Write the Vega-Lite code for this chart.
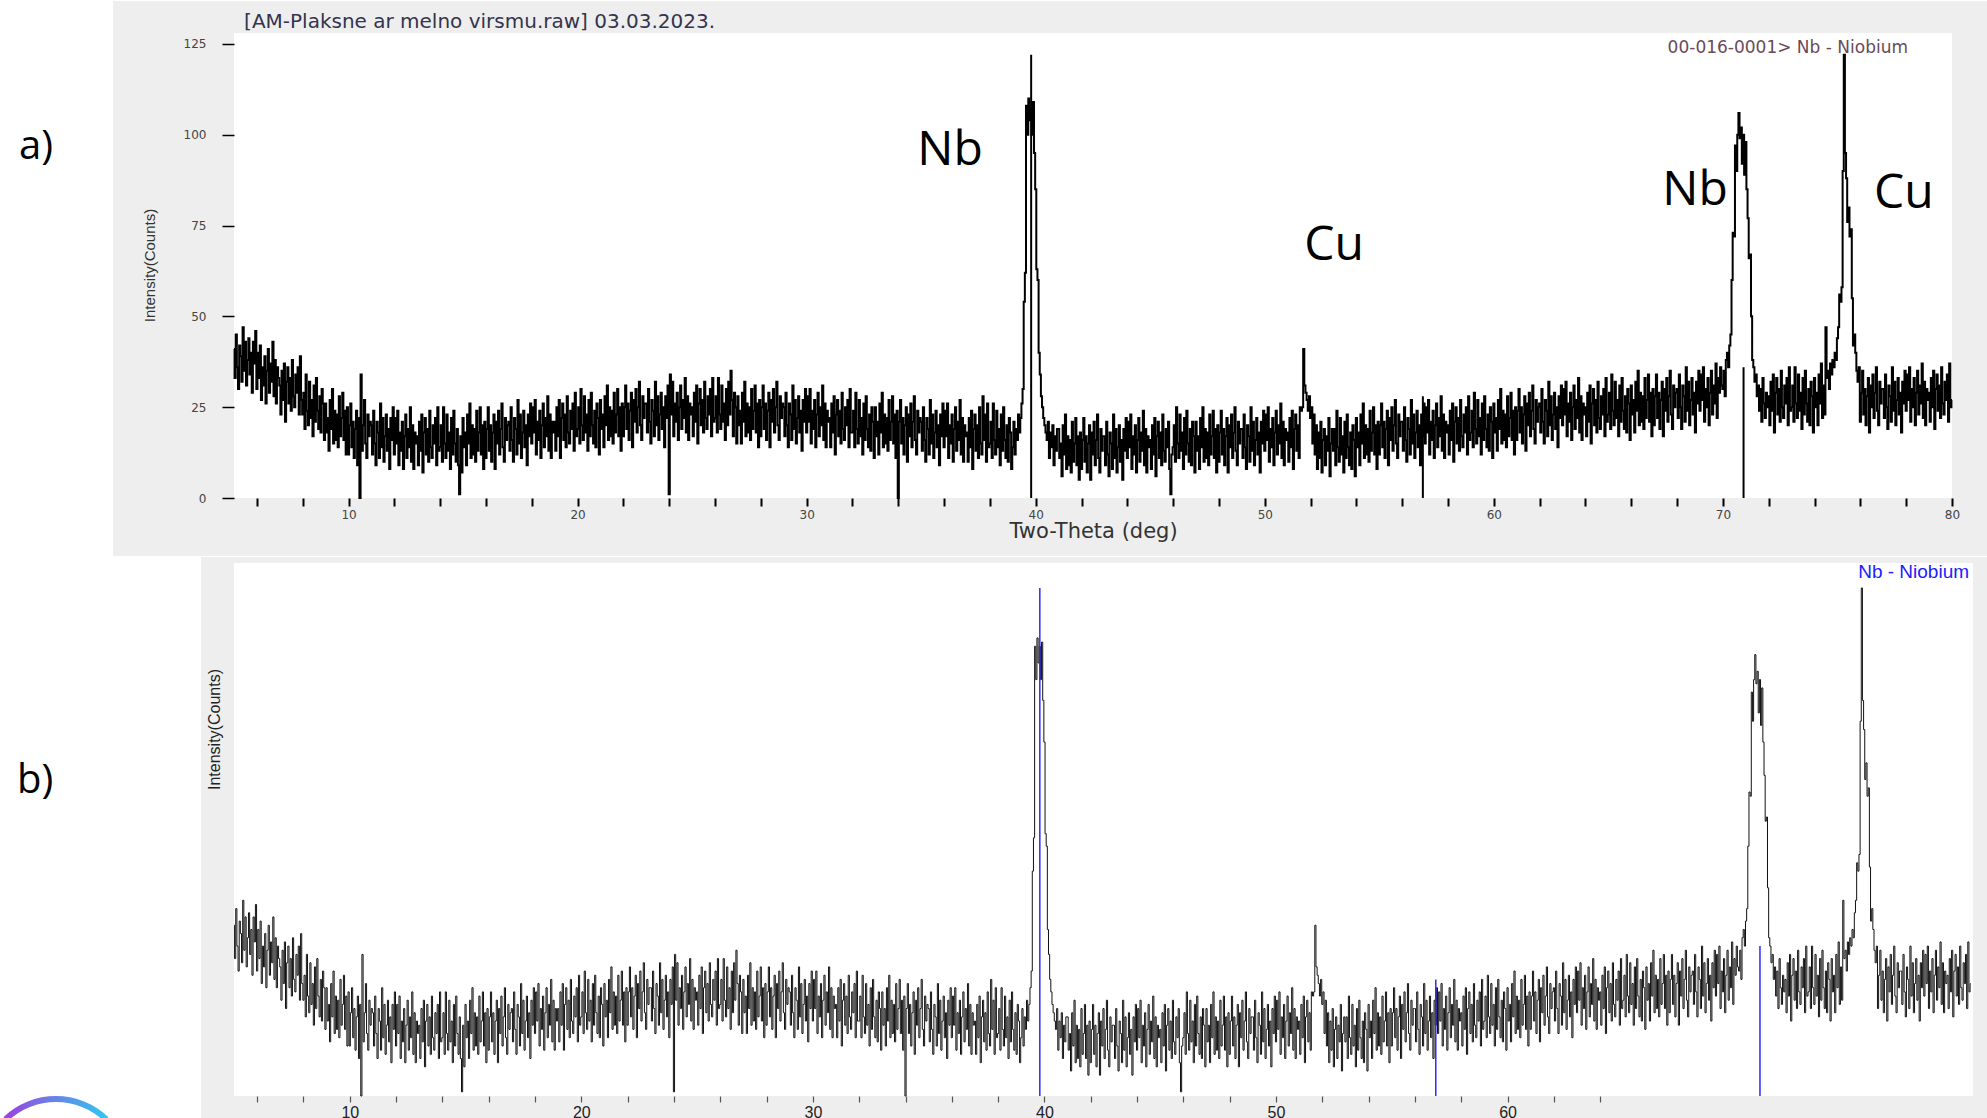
{
  "$schema": "https://vega.github.io/schema/vega-lite/v6.json",
  "padding": 0,
  "background": "white",
  "spacing": 0,
  "config": {"view": {"stroke": null}, "axis": {"grid": false}},
  "datasets": {
    "sticks": [{"x": 39.8, "b": 0, "h": 122}, {"x": 56.9, "b": 0, "h": 28}, {"x": 70.9, "b": 0, "h": 36}],
    "scan": [
{"x":5.00,"y":41},{"x":5.05,"y":33},{"x":5.10,"y":45},{"x":5.15,"y":36},{"x":5.20,"y":30},{"x":5.25,"y":42},{"x":5.30,"y":39},{"x":5.35,"y":32},{"x":5.40,"y":47},{"x":5.45,"y":35},{"x":5.50,"y":43},{"x":5.55,"y":31},{"x":5.60,"y":38},{"x":5.65,"y":44},{"x":5.70,"y":34},{"x":5.75,"y":40},{"x":5.80,"y":29},{"x":5.85,"y":43},{"x":5.90,"y":37},{"x":5.95,"y":46},
{"x":6.00,"y":30},{"x":6.05,"y":40},{"x":6.10,"y":33},{"x":6.15,"y":42},{"x":6.20,"y":27},{"x":6.25,"y":36},{"x":6.30,"y":31},{"x":6.35,"y":39},{"x":6.40,"y":26},{"x":6.45,"y":35},{"x":6.50,"y":41},{"x":6.55,"y":29},{"x":6.60,"y":37},{"x":6.65,"y":32},{"x":6.70,"y":43},{"x":6.75,"y":28},{"x":6.80,"y":38},{"x":6.85,"y":26},{"x":6.90,"y":36},{"x":6.95,"y":33},
{"x":7.00,"y":31},{"x":7.05,"y":23},{"x":7.10,"y":35},{"x":7.15,"y":27},{"x":7.20,"y":37},{"x":7.25,"y":21},{"x":7.30,"y":32},{"x":7.35,"y":36},{"x":7.40,"y":26},{"x":7.45,"y":33},{"x":7.50,"y":24},{"x":7.55,"y":38},{"x":7.60,"y":28},{"x":7.65,"y":25},{"x":7.70,"y":34},{"x":7.75,"y":29},{"x":7.80,"y":36},{"x":7.85,"y":23},{"x":7.90,"y":39},{"x":7.95,"y":27},
{"x":8.00,"y":23},{"x":8.05,"y":29},{"x":8.10,"y":19},{"x":8.15,"y":34},{"x":8.20,"y":24},{"x":8.25,"y":20},{"x":8.30,"y":32},{"x":8.35,"y":22},{"x":8.40,"y":27},{"x":8.45,"y":17},{"x":8.50,"y":31},{"x":8.55,"y":21},{"x":8.60,"y":33},{"x":8.65,"y":24},{"x":8.70,"y":19},{"x":8.75,"y":28},{"x":8.80,"y":18},{"x":8.85,"y":30},{"x":8.90,"y":26},{"x":8.95,"y":16},
{"x":9.00,"y":26},{"x":9.05,"y":18},{"x":9.10,"y":22},{"x":9.15,"y":13},{"x":9.20,"y":27},{"x":9.25,"y":19},{"x":9.30,"y":30},{"x":9.35,"y":15},{"x":9.40,"y":24},{"x":9.45,"y":16},{"x":9.50,"y":23},{"x":9.55,"y":14},{"x":9.60,"y":28},{"x":9.65,"y":17},{"x":9.70,"y":22},{"x":9.75,"y":29},{"x":9.80,"y":16},{"x":9.85,"y":24},{"x":9.90,"y":12},{"x":9.95,"y":25},
{"x":10.00,"y":12},{"x":10.05,"y":20},{"x":10.10,"y":26},{"x":10.15,"y":14},{"x":10.20,"y":21},{"x":10.25,"y":11},{"x":10.30,"y":19},{"x":10.35,"y":24},{"x":10.40,"y":9},{"x":10.45,"y":22},{"x":10.50,"y":0},{"x":10.55,"y":34},{"x":10.60,"y":13},{"x":10.65,"y":20},{"x":10.70,"y":27},{"x":10.75,"y":15},{"x":10.80,"y":11},{"x":10.85,"y":23},{"x":10.90,"y":17},{"x":10.95,"y":21},
{"x":11.00,"y":20},{"x":11.05,"y":12},{"x":11.10,"y":24},{"x":11.15,"y":15},{"x":11.20,"y":9},{"x":11.25,"y":21},{"x":11.30,"y":18},{"x":11.35,"y":11},{"x":11.40,"y":26},{"x":11.45,"y":14},{"x":11.50,"y":22},{"x":11.55,"y":10},{"x":11.60,"y":17},{"x":11.65,"y":23},{"x":11.70,"y":13},{"x":11.75,"y":19},{"x":11.80,"y":8},{"x":11.85,"y":22},{"x":11.90,"y":16},{"x":11.95,"y":25},
{"x":12.00,"y":12},{"x":12.05,"y":22},{"x":12.10,"y":15},{"x":12.15,"y":24},{"x":12.20,"y":9},{"x":12.25,"y":18},{"x":12.30,"y":13},{"x":12.35,"y":21},{"x":12.40,"y":8},{"x":12.45,"y":17},{"x":12.50,"y":23},{"x":12.55,"y":11},{"x":12.60,"y":19},{"x":12.65,"y":14},{"x":12.70,"y":25},{"x":12.75,"y":10},{"x":12.80,"y":20},{"x":12.85,"y":8},{"x":12.90,"y":18},{"x":12.95,"y":15},
{"x":13.00,"y":17},{"x":13.05,"y":9},{"x":13.10,"y":21},{"x":13.15,"y":13},{"x":13.20,"y":23},{"x":13.25,"y":7},{"x":13.30,"y":18},{"x":13.35,"y":22},{"x":13.40,"y":12},{"x":13.45,"y":19},{"x":13.50,"y":10},{"x":13.55,"y":24},{"x":13.60,"y":14},{"x":13.65,"y":11},{"x":13.70,"y":20},{"x":13.75,"y":15},{"x":13.80,"y":22},{"x":13.85,"y":9},{"x":13.90,"y":25},{"x":13.95,"y":13},
{"x":14.00,"y":14},{"x":14.05,"y":20},{"x":14.10,"y":10},{"x":14.15,"y":25},{"x":14.20,"y":15},{"x":14.25,"y":11},{"x":14.30,"y":23},{"x":14.35,"y":13},{"x":14.40,"y":18},{"x":14.45,"y":8},{"x":14.50,"y":22},{"x":14.55,"y":12},{"x":14.60,"y":24},{"x":14.65,"y":15},{"x":14.70,"y":10},{"x":14.75,"y":19},{"x":14.80,"y":9},{"x":14.85,"y":1},{"x":14.90,"y":17},{"x":14.95,"y":7},
{"x":15.00,"y":22},{"x":15.05,"y":14},{"x":15.10,"y":18},{"x":15.15,"y":9},{"x":15.20,"y":23},{"x":15.25,"y":15},{"x":15.30,"y":26},{"x":15.35,"y":11},{"x":15.40,"y":20},{"x":15.45,"y":12},{"x":15.50,"y":19},{"x":15.55,"y":10},{"x":15.60,"y":24},{"x":15.65,"y":13},{"x":15.70,"y":18},{"x":15.75,"y":25},{"x":15.80,"y":12},{"x":15.85,"y":20},{"x":15.90,"y":8},{"x":15.95,"y":21},
{"x":16.00,"y":11},{"x":16.05,"y":19},{"x":16.10,"y":25},{"x":16.15,"y":13},{"x":16.20,"y":20},{"x":16.25,"y":10},{"x":16.30,"y":18},{"x":16.35,"y":23},{"x":16.40,"y":8},{"x":16.45,"y":21},{"x":16.50,"y":15},{"x":16.55,"y":24},{"x":16.60,"y":12},{"x":16.65,"y":19},{"x":16.70,"y":26},{"x":16.75,"y":14},{"x":16.80,"y":10},{"x":16.85,"y":22},{"x":16.90,"y":16},{"x":16.95,"y":20},
{"x":17.00,"y":21},{"x":17.05,"y":13},{"x":17.10,"y":25},{"x":17.15,"y":16},{"x":17.20,"y":10},{"x":17.25,"y":22},{"x":17.30,"y":19},{"x":17.35,"y":12},{"x":17.40,"y":27},{"x":17.45,"y":15},{"x":17.50,"y":23},{"x":17.55,"y":11},{"x":17.60,"y":18},{"x":17.65,"y":24},{"x":17.70,"y":14},{"x":17.75,"y":20},{"x":17.80,"y":9},{"x":17.85,"y":23},{"x":17.90,"y":17},{"x":17.95,"y":26},
{"x":18.00,"y":15},{"x":18.05,"y":25},{"x":18.10,"y":18},{"x":18.15,"y":27},{"x":18.20,"y":12},{"x":18.25,"y":21},{"x":18.30,"y":16},{"x":18.35,"y":24},{"x":18.40,"y":11},{"x":18.45,"y":20},{"x":18.50,"y":26},{"x":18.55,"y":14},{"x":18.60,"y":22},{"x":18.65,"y":17},{"x":18.70,"y":28},{"x":18.75,"y":13},{"x":18.80,"y":23},{"x":18.85,"y":11},{"x":18.90,"y":21},{"x":18.95,"y":18},
{"x":19.00,"y":21},{"x":19.05,"y":13},{"x":19.10,"y":25},{"x":19.15,"y":17},{"x":19.20,"y":27},{"x":19.25,"y":11},{"x":19.30,"y":22},{"x":19.35,"y":26},{"x":19.40,"y":16},{"x":19.45,"y":23},{"x":19.50,"y":14},{"x":19.55,"y":28},{"x":19.60,"y":18},{"x":19.65,"y":15},{"x":19.70,"y":24},{"x":19.75,"y":19},{"x":19.80,"y":26},{"x":19.85,"y":13},{"x":19.90,"y":29},{"x":19.95,"y":17},
{"x":20.00,"y":19},{"x":20.05,"y":25},{"x":20.10,"y":15},{"x":20.15,"y":30},{"x":20.20,"y":20},{"x":20.25,"y":16},{"x":20.30,"y":28},{"x":20.35,"y":18},{"x":20.40,"y":23},{"x":20.45,"y":13},{"x":20.50,"y":27},{"x":20.55,"y":17},{"x":20.60,"y":29},{"x":20.65,"y":20},{"x":20.70,"y":15},{"x":20.75,"y":24},{"x":20.80,"y":14},{"x":20.85,"y":26},{"x":20.90,"y":22},{"x":20.95,"y":12},
{"x":21.00,"y":27},{"x":21.05,"y":19},{"x":21.10,"y":23},{"x":21.15,"y":14},{"x":21.20,"y":28},{"x":21.25,"y":20},{"x":21.30,"y":31},{"x":21.35,"y":16},{"x":21.40,"y":25},{"x":21.45,"y":17},{"x":21.50,"y":24},{"x":21.55,"y":15},{"x":21.60,"y":29},{"x":21.65,"y":18},{"x":21.70,"y":23},{"x":21.75,"y":30},{"x":21.80,"y":17},{"x":21.85,"y":25},{"x":21.90,"y":13},{"x":21.95,"y":26},
{"x":22.00,"y":17},{"x":22.05,"y":25},{"x":22.10,"y":31},{"x":22.15,"y":19},{"x":22.20,"y":26},{"x":22.25,"y":16},{"x":22.30,"y":24},{"x":22.35,"y":29},{"x":22.40,"y":14},{"x":22.45,"y":27},{"x":22.50,"y":21},{"x":22.55,"y":30},{"x":22.60,"y":18},{"x":22.65,"y":25},{"x":22.70,"y":32},{"x":22.75,"y":20},{"x":22.80,"y":16},{"x":22.85,"y":28},{"x":22.90,"y":22},{"x":22.95,"y":26},
{"x":23.00,"y":26},{"x":23.05,"y":18},{"x":23.10,"y":30},{"x":23.15,"y":21},{"x":23.20,"y":15},{"x":23.25,"y":27},{"x":23.30,"y":24},{"x":23.35,"y":17},{"x":23.40,"y":32},{"x":23.45,"y":20},{"x":23.50,"y":28},{"x":23.55,"y":16},{"x":23.60,"y":23},{"x":23.65,"y":29},{"x":23.70,"y":19},{"x":23.75,"y":25},{"x":23.80,"y":14},{"x":23.85,"y":28},{"x":23.90,"y":22},{"x":23.95,"y":31},
{"x":24.00,"y":1},{"x":24.05,"y":34},{"x":24.10,"y":23},{"x":24.15,"y":32},{"x":24.20,"y":17},{"x":24.25,"y":26},{"x":24.30,"y":21},{"x":24.35,"y":29},{"x":24.40,"y":16},{"x":24.45,"y":25},{"x":24.50,"y":31},{"x":24.55,"y":19},{"x":24.60,"y":27},{"x":24.65,"y":22},{"x":24.70,"y":33},{"x":24.75,"y":18},{"x":24.80,"y":28},{"x":24.85,"y":16},{"x":24.90,"y":26},{"x":24.95,"y":23},
{"x":25.00,"y":25},{"x":25.05,"y":17},{"x":25.10,"y":29},{"x":25.15,"y":21},{"x":25.20,"y":31},{"x":25.25,"y":15},{"x":25.30,"y":26},{"x":25.35,"y":30},{"x":25.40,"y":20},{"x":25.45,"y":27},{"x":25.50,"y":18},{"x":25.55,"y":32},{"x":25.60,"y":22},{"x":25.65,"y":19},{"x":25.70,"y":28},{"x":25.75,"y":23},{"x":25.80,"y":30},{"x":25.85,"y":17},{"x":25.90,"y":33},{"x":25.95,"y":21},
{"x":26.00,"y":22},{"x":26.05,"y":28},{"x":26.10,"y":18},{"x":26.15,"y":33},{"x":26.20,"y":23},{"x":26.25,"y":19},{"x":26.30,"y":31},{"x":26.35,"y":21},{"x":26.40,"y":26},{"x":26.45,"y":16},{"x":26.50,"y":30},{"x":26.55,"y":20},{"x":26.60,"y":32},{"x":26.65,"y":23},{"x":26.70,"y":35},{"x":26.75,"y":27},{"x":26.80,"y":17},{"x":26.85,"y":29},{"x":26.90,"y":25},{"x":26.95,"y":15},
{"x":27.00,"y":28},{"x":27.05,"y":20},{"x":27.10,"y":24},{"x":27.15,"y":15},{"x":27.20,"y":29},{"x":27.25,"y":21},{"x":27.30,"y":32},{"x":27.35,"y":17},{"x":27.40,"y":26},{"x":27.45,"y":18},{"x":27.50,"y":25},{"x":27.55,"y":16},{"x":27.60,"y":30},{"x":27.65,"y":19},{"x":27.70,"y":24},{"x":27.75,"y":31},{"x":27.80,"y":18},{"x":27.85,"y":26},{"x":27.90,"y":14},{"x":27.95,"y":27},
{"x":28.00,"y":17},{"x":28.05,"y":25},{"x":28.10,"y":31},{"x":28.15,"y":19},{"x":28.20,"y":26},{"x":28.25,"y":16},{"x":28.30,"y":24},{"x":28.35,"y":29},{"x":28.40,"y":14},{"x":28.45,"y":27},{"x":28.50,"y":21},{"x":28.55,"y":30},{"x":28.60,"y":18},{"x":28.65,"y":25},{"x":28.70,"y":32},{"x":28.75,"y":20},{"x":28.80,"y":16},{"x":28.85,"y":28},{"x":28.90,"y":22},{"x":28.95,"y":26},
{"x":29.00,"y":25},{"x":29.05,"y":17},{"x":29.10,"y":29},{"x":29.15,"y":20},{"x":29.20,"y":14},{"x":29.25,"y":26},{"x":29.30,"y":23},{"x":29.35,"y":16},{"x":29.40,"y":31},{"x":29.45,"y":19},{"x":29.50,"y":27},{"x":29.55,"y":15},{"x":29.60,"y":22},{"x":29.65,"y":28},{"x":29.70,"y":18},{"x":29.75,"y":24},{"x":29.80,"y":13},{"x":29.85,"y":27},{"x":29.90,"y":21},{"x":29.95,"y":30},
{"x":30.00,"y":18},{"x":30.05,"y":28},{"x":30.10,"y":21},{"x":30.15,"y":30},{"x":30.20,"y":15},{"x":30.25,"y":24},{"x":30.30,"y":19},{"x":30.35,"y":27},{"x":30.40,"y":14},{"x":30.45,"y":23},{"x":30.50,"y":29},{"x":30.55,"y":17},{"x":30.60,"y":25},{"x":30.65,"y":20},{"x":30.70,"y":31},{"x":30.75,"y":16},{"x":30.80,"y":26},{"x":30.85,"y":14},{"x":30.90,"y":24},{"x":30.95,"y":21},
{"x":31.00,"y":22},{"x":31.05,"y":14},{"x":31.10,"y":26},{"x":31.15,"y":18},{"x":31.20,"y":28},{"x":31.25,"y":12},{"x":31.30,"y":23},{"x":31.35,"y":27},{"x":31.40,"y":17},{"x":31.45,"y":24},{"x":31.50,"y":15},{"x":31.55,"y":29},{"x":31.60,"y":19},{"x":31.65,"y":16},{"x":31.70,"y":25},{"x":31.75,"y":20},{"x":31.80,"y":27},{"x":31.85,"y":14},{"x":31.90,"y":30},{"x":31.95,"y":18},
{"x":32.00,"y":18},{"x":32.05,"y":24},{"x":32.10,"y":14},{"x":32.15,"y":29},{"x":32.20,"y":19},{"x":32.25,"y":15},{"x":32.30,"y":27},{"x":32.35,"y":17},{"x":32.40,"y":22},{"x":32.45,"y":12},{"x":32.50,"y":26},{"x":32.55,"y":16},{"x":32.60,"y":28},{"x":32.65,"y":19},{"x":32.70,"y":14},{"x":32.75,"y":23},{"x":32.80,"y":13},{"x":32.85,"y":25},{"x":32.90,"y":21},{"x":32.95,"y":11},
{"x":33.00,"y":25},{"x":33.05,"y":17},{"x":33.10,"y":21},{"x":33.15,"y":12},{"x":33.20,"y":26},{"x":33.25,"y":18},{"x":33.30,"y":29},{"x":33.35,"y":14},{"x":33.40,"y":23},{"x":33.45,"y":15},{"x":33.50,"y":22},{"x":33.55,"y":13},{"x":33.60,"y":27},{"x":33.65,"y":16},{"x":33.70,"y":21},{"x":33.75,"y":28},{"x":33.80,"y":15},{"x":33.85,"y":23},{"x":33.90,"y":11},{"x":33.95,"y":24},
{"x":34.00,"y":0},{"x":34.05,"y":21},{"x":34.10,"y":27},{"x":34.15,"y":15},{"x":34.20,"y":22},{"x":34.25,"y":12},{"x":34.30,"y":20},{"x":34.35,"y":25},{"x":34.40,"y":10},{"x":34.45,"y":23},{"x":34.50,"y":17},{"x":34.55,"y":26},{"x":34.60,"y":14},{"x":34.65,"y":21},{"x":34.70,"y":28},{"x":34.75,"y":16},{"x":34.80,"y":12},{"x":34.85,"y":24},{"x":34.90,"y":18},{"x":34.95,"y":22},
{"x":35.00,"y":21},{"x":35.05,"y":13},{"x":35.10,"y":25},{"x":35.15,"y":16},{"x":35.20,"y":10},{"x":35.25,"y":22},{"x":35.30,"y":19},{"x":35.35,"y":12},{"x":35.40,"y":27},{"x":35.45,"y":15},{"x":35.50,"y":23},{"x":35.55,"y":11},{"x":35.60,"y":18},{"x":35.65,"y":24},{"x":35.70,"y":14},{"x":35.75,"y":20},{"x":35.80,"y":9},{"x":35.85,"y":23},{"x":35.90,"y":17},{"x":35.95,"y":26},
{"x":36.00,"y":14},{"x":36.05,"y":24},{"x":36.10,"y":17},{"x":36.15,"y":26},{"x":36.20,"y":11},{"x":36.25,"y":20},{"x":36.30,"y":15},{"x":36.35,"y":23},{"x":36.40,"y":10},{"x":36.45,"y":19},{"x":36.50,"y":25},{"x":36.55,"y":13},{"x":36.60,"y":21},{"x":36.65,"y":16},{"x":36.70,"y":27},{"x":36.75,"y":12},{"x":36.80,"y":22},{"x":36.85,"y":10},{"x":36.90,"y":20},{"x":36.95,"y":17},
{"x":37.00,"y":18},{"x":37.05,"y":10},{"x":37.10,"y":22},{"x":37.15,"y":14},{"x":37.20,"y":24},{"x":37.25,"y":8},{"x":37.30,"y":19},{"x":37.35,"y":23},{"x":37.40,"y":13},{"x":37.45,"y":20},{"x":37.50,"y":11},{"x":37.55,"y":25},{"x":37.60,"y":15},{"x":37.65,"y":12},{"x":37.70,"y":28},{"x":37.75,"y":16},{"x":37.80,"y":23},{"x":37.85,"y":10},{"x":37.90,"y":26},{"x":37.95,"y":14},
{"x":38.00,"y":15},{"x":38.05,"y":21},{"x":38.10,"y":11},{"x":38.15,"y":26},{"x":38.20,"y":16},{"x":38.25,"y":12},{"x":38.30,"y":24},{"x":38.35,"y":14},{"x":38.40,"y":19},{"x":38.45,"y":9},{"x":38.50,"y":23},{"x":38.55,"y":13},{"x":38.60,"y":25},{"x":38.65,"y":16},{"x":38.70,"y":11},{"x":38.75,"y":20},{"x":38.80,"y":10},{"x":38.85,"y":22},{"x":38.90,"y":18},{"x":38.95,"y":8},
{"x":39.00,"y":14},{"x":39.05,"y":21},{"x":39.10,"y":12},{"x":39.15,"y":19},{"x":39.20,"y":16},{"x":39.25,"y":23},{"x":39.30,"y":18},{"x":39.35,"y":22},{"x":39.40,"y":26},{"x":39.45,"y":30},{"x":39.50,"y":54},{"x":39.55,"y":62},{"x":39.60,"y":108},{"x":39.65,"y":100},{"x":39.70,"y":110},{"x":39.75,"y":104},{"x":39.80,"y":108},{"x":39.85,"y":100},{"x":39.90,"y":109},{"x":39.95,"y":95},
{"x":40.00,"y":85},{"x":40.05,"y":63},{"x":40.10,"y":60},{"x":40.15,"y":40},{"x":40.20,"y":34},{"x":40.25,"y":28},{"x":40.30,"y":25},{"x":40.35,"y":22},{"x":40.40,"y":20},{"x":40.45,"y":18},{"x":40.50,"y":16},{"x":40.55,"y":21},{"x":40.60,"y":11},{"x":40.65,"y":18},{"x":40.70,"y":14},{"x":40.75,"y":20},{"x":40.80,"y":9},{"x":40.85,"y":17},{"x":40.90,"y":13},{"x":40.95,"y":19},
{"x":41.00,"y":19},{"x":41.05,"y":11},{"x":41.10,"y":15},{"x":41.15,"y":6},{"x":41.20,"y":20},{"x":41.25,"y":12},{"x":41.30,"y":23},{"x":41.35,"y":8},{"x":41.40,"y":17},{"x":41.45,"y":9},{"x":41.50,"y":16},{"x":41.55,"y":7},{"x":41.60,"y":21},{"x":41.65,"y":10},{"x":41.70,"y":15},{"x":41.75,"y":22},{"x":41.80,"y":9},{"x":41.85,"y":17},{"x":41.90,"y":5},{"x":41.95,"y":18},
{"x":42.00,"y":8},{"x":42.05,"y":16},{"x":42.10,"y":22},{"x":42.15,"y":10},{"x":42.20,"y":17},{"x":42.25,"y":7},{"x":42.30,"y":15},{"x":42.35,"y":20},{"x":42.40,"y":5},{"x":42.45,"y":18},{"x":42.50,"y":12},{"x":42.55,"y":21},{"x":42.60,"y":9},{"x":42.65,"y":16},{"x":42.70,"y":23},{"x":42.75,"y":11},{"x":42.80,"y":7},{"x":42.85,"y":19},{"x":42.90,"y":13},{"x":42.95,"y":17},
{"x":43.00,"y":17},{"x":43.05,"y":9},{"x":43.10,"y":21},{"x":43.15,"y":12},{"x":43.20,"y":6},{"x":43.25,"y":18},{"x":43.30,"y":15},{"x":43.35,"y":8},{"x":43.40,"y":23},{"x":43.45,"y":11},{"x":43.50,"y":19},{"x":43.55,"y":7},{"x":43.60,"y":14},{"x":43.65,"y":20},{"x":43.70,"y":10},{"x":43.75,"y":16},{"x":43.80,"y":5},{"x":43.85,"y":19},{"x":43.90,"y":13},{"x":43.95,"y":22},
{"x":44.00,"y":11},{"x":44.05,"y":21},{"x":44.10,"y":14},{"x":44.15,"y":23},{"x":44.20,"y":8},{"x":44.25,"y":17},{"x":44.30,"y":12},{"x":44.35,"y":20},{"x":44.40,"y":7},{"x":44.45,"y":16},{"x":44.50,"y":22},{"x":44.55,"y":10},{"x":44.60,"y":18},{"x":44.65,"y":13},{"x":44.70,"y":24},{"x":44.75,"y":9},{"x":44.80,"y":19},{"x":44.85,"y":7},{"x":44.90,"y":17},{"x":44.95,"y":14},
{"x":45.00,"y":16},{"x":45.05,"y":8},{"x":45.10,"y":20},{"x":45.15,"y":12},{"x":45.20,"y":22},{"x":45.25,"y":6},{"x":45.30,"y":17},{"x":45.35,"y":21},{"x":45.40,"y":11},{"x":45.45,"y":18},{"x":45.50,"y":9},{"x":45.55,"y":23},{"x":45.60,"y":13},{"x":45.65,"y":10},{"x":45.70,"y":19},{"x":45.75,"y":14},{"x":45.80,"y":21},{"x":45.85,"y":8},{"x":45.90,"y":1},{"x":45.95,"y":12},
{"x":46.00,"y":14},{"x":46.05,"y":20},{"x":46.10,"y":10},{"x":46.15,"y":25},{"x":46.20,"y":15},{"x":46.25,"y":11},{"x":46.30,"y":23},{"x":46.35,"y":13},{"x":46.40,"y":18},{"x":46.45,"y":8},{"x":46.50,"y":22},{"x":46.55,"y":12},{"x":46.60,"y":24},{"x":46.65,"y":15},{"x":46.70,"y":10},{"x":46.75,"y":19},{"x":46.80,"y":9},{"x":46.85,"y":21},{"x":46.90,"y":17},{"x":46.95,"y":7},
{"x":47.00,"y":21},{"x":47.05,"y":13},{"x":47.10,"y":17},{"x":47.15,"y":8},{"x":47.20,"y":22},{"x":47.25,"y":14},{"x":47.30,"y":25},{"x":47.35,"y":10},{"x":47.40,"y":19},{"x":47.45,"y":11},{"x":47.50,"y":18},{"x":47.55,"y":9},{"x":47.60,"y":23},{"x":47.65,"y":12},{"x":47.70,"y":17},{"x":47.75,"y":24},{"x":47.80,"y":11},{"x":47.85,"y":19},{"x":47.90,"y":7},{"x":47.95,"y":20},
{"x":48.00,"y":10},{"x":48.05,"y":18},{"x":48.10,"y":24},{"x":48.15,"y":12},{"x":48.20,"y":19},{"x":48.25,"y":9},{"x":48.30,"y":17},{"x":48.35,"y":22},{"x":48.40,"y":7},{"x":48.45,"y":20},{"x":48.50,"y":14},{"x":48.55,"y":23},{"x":48.60,"y":11},{"x":48.65,"y":18},{"x":48.70,"y":25},{"x":48.75,"y":13},{"x":48.80,"y":9},{"x":48.85,"y":21},{"x":48.90,"y":15},{"x":48.95,"y":19},
{"x":49.00,"y":19},{"x":49.05,"y":11},{"x":49.10,"y":23},{"x":49.15,"y":14},{"x":49.20,"y":8},{"x":49.25,"y":20},{"x":49.30,"y":17},{"x":49.35,"y":10},{"x":49.40,"y":25},{"x":49.45,"y":13},{"x":49.50,"y":21},{"x":49.55,"y":9},{"x":49.60,"y":16},{"x":49.65,"y":22},{"x":49.70,"y":12},{"x":49.75,"y":18},{"x":49.80,"y":7},{"x":49.85,"y":21},{"x":49.90,"y":15},{"x":49.95,"y":24},
{"x":50.00,"y":13},{"x":50.05,"y":23},{"x":50.10,"y":16},{"x":50.15,"y":25},{"x":50.20,"y":10},{"x":50.25,"y":19},{"x":50.30,"y":14},{"x":50.35,"y":22},{"x":50.40,"y":9},{"x":50.45,"y":18},{"x":50.50,"y":24},{"x":50.55,"y":12},{"x":50.60,"y":20},{"x":50.65,"y":15},{"x":50.70,"y":26},{"x":50.75,"y":11},{"x":50.80,"y":21},{"x":50.85,"y":9},{"x":50.90,"y":19},{"x":50.95,"y":16},
{"x":51.00,"y":18},{"x":51.05,"y":10},{"x":51.10,"y":22},{"x":51.15,"y":14},{"x":51.20,"y":24},{"x":51.25,"y":8},{"x":51.30,"y":19},{"x":51.35,"y":23},{"x":51.40,"y":13},{"x":51.45,"y":20},{"x":51.50,"y":11},{"x":51.55,"y":25},{"x":51.60,"y":24},{"x":51.65,"y":25},{"x":51.70,"y":41},{"x":51.75,"y":31},{"x":51.80,"y":29},{"x":51.85,"y":27},{"x":51.90,"y":24},{"x":51.95,"y":28},
{"x":52.00,"y":22},{"x":52.05,"y":25},{"x":52.10,"y":15},{"x":52.15,"y":23},{"x":52.20,"y":12},{"x":52.25,"y":20},{"x":52.30,"y":8},{"x":52.35,"y":18},{"x":52.40,"y":11},{"x":52.45,"y":21},{"x":52.50,"y":7},{"x":52.55,"y":16},{"x":52.60,"y":19},{"x":52.65,"y":9},{"x":52.70,"y":17},{"x":52.75,"y":13},{"x":52.80,"y":22},{"x":52.85,"y":6},{"x":52.90,"y":15},{"x":52.95,"y":19},
{"x":53.00,"y":13},{"x":53.05,"y":19},{"x":53.10,"y":9},{"x":53.15,"y":24},{"x":53.20,"y":14},{"x":53.25,"y":10},{"x":53.30,"y":22},{"x":53.35,"y":12},{"x":53.40,"y":17},{"x":53.45,"y":7},{"x":53.50,"y":21},{"x":53.55,"y":11},{"x":53.60,"y":23},{"x":53.65,"y":14},{"x":53.70,"y":9},{"x":53.75,"y":18},{"x":53.80,"y":8},{"x":53.85,"y":20},{"x":53.90,"y":16},{"x":53.95,"y":6},
{"x":54.00,"y":22},{"x":54.05,"y":14},{"x":54.10,"y":18},{"x":54.15,"y":9},{"x":54.20,"y":23},{"x":54.25,"y":15},{"x":54.30,"y":26},{"x":54.35,"y":11},{"x":54.40,"y":20},{"x":54.45,"y":12},{"x":54.50,"y":19},{"x":54.55,"y":10},{"x":54.60,"y":24},{"x":54.65,"y":13},{"x":54.70,"y":18},{"x":54.75,"y":25},{"x":54.80,"y":12},{"x":54.85,"y":20},{"x":54.90,"y":8},{"x":54.95,"y":21},
{"x":55.00,"y":12},{"x":55.05,"y":20},{"x":55.10,"y":26},{"x":55.15,"y":14},{"x":55.20,"y":21},{"x":55.25,"y":11},{"x":55.30,"y":19},{"x":55.35,"y":24},{"x":55.40,"y":9},{"x":55.45,"y":22},{"x":55.50,"y":16},{"x":55.55,"y":25},{"x":55.60,"y":13},{"x":55.65,"y":20},{"x":55.70,"y":27},{"x":55.75,"y":15},{"x":55.80,"y":11},{"x":55.85,"y":23},{"x":55.90,"y":17},{"x":55.95,"y":21},
{"x":56.00,"y":21},{"x":56.05,"y":13},{"x":56.10,"y":25},{"x":56.15,"y":16},{"x":56.20,"y":10},{"x":56.25,"y":22},{"x":56.30,"y":19},{"x":56.35,"y":12},{"x":56.40,"y":27},{"x":56.45,"y":15},{"x":56.50,"y":23},{"x":56.55,"y":11},{"x":56.60,"y":18},{"x":56.65,"y":24},{"x":56.70,"y":14},{"x":56.75,"y":20},{"x":56.80,"y":9},{"x":56.85,"y":23},{"x":56.90,"y":17},{"x":56.95,"y":26},
{"x":57.00,"y":15},{"x":57.05,"y":25},{"x":57.10,"y":18},{"x":57.15,"y":27},{"x":57.20,"y":12},{"x":57.25,"y":21},{"x":57.30,"y":16},{"x":57.35,"y":24},{"x":57.40,"y":11},{"x":57.45,"y":20},{"x":57.50,"y":26},{"x":57.55,"y":14},{"x":57.60,"y":22},{"x":57.65,"y":17},{"x":57.70,"y":28},{"x":57.75,"y":13},{"x":57.80,"y":23},{"x":57.85,"y":11},{"x":57.90,"y":21},{"x":57.95,"y":18},
{"x":58.00,"y":20},{"x":58.05,"y":12},{"x":58.10,"y":24},{"x":58.15,"y":16},{"x":58.20,"y":26},{"x":58.25,"y":10},{"x":58.30,"y":21},{"x":58.35,"y":25},{"x":58.40,"y":15},{"x":58.45,"y":22},{"x":58.50,"y":13},{"x":58.55,"y":27},{"x":58.60,"y":17},{"x":58.65,"y":14},{"x":58.70,"y":23},{"x":58.75,"y":18},{"x":58.80,"y":25},{"x":58.85,"y":12},{"x":58.90,"y":28},{"x":58.95,"y":16},
{"x":59.00,"y":18},{"x":59.05,"y":24},{"x":59.10,"y":14},{"x":59.15,"y":29},{"x":59.20,"y":19},{"x":59.25,"y":15},{"x":59.30,"y":27},{"x":59.35,"y":17},{"x":59.40,"y":22},{"x":59.45,"y":12},{"x":59.50,"y":26},{"x":59.55,"y":16},{"x":59.60,"y":28},{"x":59.65,"y":19},{"x":59.70,"y":14},{"x":59.75,"y":23},{"x":59.80,"y":13},{"x":59.85,"y":25},{"x":59.90,"y":21},{"x":59.95,"y":11},
{"x":60.00,"y":26},{"x":60.05,"y":18},{"x":60.10,"y":22},{"x":60.15,"y":13},{"x":60.20,"y":27},{"x":60.25,"y":19},{"x":60.30,"y":30},{"x":60.35,"y":15},{"x":60.40,"y":24},{"x":60.45,"y":16},{"x":60.50,"y":23},{"x":60.55,"y":14},{"x":60.60,"y":28},{"x":60.65,"y":17},{"x":60.70,"y":22},{"x":60.75,"y":29},{"x":60.80,"y":16},{"x":60.85,"y":24},{"x":60.90,"y":12},{"x":60.95,"y":25},
{"x":61.00,"y":16},{"x":61.05,"y":24},{"x":61.10,"y":30},{"x":61.15,"y":18},{"x":61.20,"y":25},{"x":61.25,"y":15},{"x":61.30,"y":23},{"x":61.35,"y":28},{"x":61.40,"y":13},{"x":61.45,"y":26},{"x":61.50,"y":20},{"x":61.55,"y":29},{"x":61.60,"y":17},{"x":61.65,"y":24},{"x":61.70,"y":31},{"x":61.75,"y":19},{"x":61.80,"y":15},{"x":61.85,"y":27},{"x":61.90,"y":21},{"x":61.95,"y":25},
{"x":62.00,"y":26},{"x":62.05,"y":18},{"x":62.10,"y":30},{"x":62.15,"y":21},{"x":62.20,"y":15},{"x":62.25,"y":27},{"x":62.30,"y":24},{"x":62.35,"y":17},{"x":62.40,"y":32},{"x":62.45,"y":20},{"x":62.50,"y":28},{"x":62.55,"y":16},{"x":62.60,"y":23},{"x":62.65,"y":29},{"x":62.70,"y":19},{"x":62.75,"y":25},{"x":62.80,"y":14},{"x":62.85,"y":28},{"x":62.90,"y":22},{"x":62.95,"y":31},
{"x":63.00,"y":20},{"x":63.05,"y":30},{"x":63.10,"y":23},{"x":63.15,"y":32},{"x":63.20,"y":17},{"x":63.25,"y":26},{"x":63.30,"y":21},{"x":63.35,"y":29},{"x":63.40,"y":16},{"x":63.45,"y":25},{"x":63.50,"y":31},{"x":63.55,"y":19},{"x":63.60,"y":27},{"x":63.65,"y":22},{"x":63.70,"y":33},{"x":63.75,"y":18},{"x":63.80,"y":28},{"x":63.85,"y":16},{"x":63.90,"y":26},{"x":63.95,"y":23},
{"x":64.00,"y":25},{"x":64.05,"y":17},{"x":64.10,"y":29},{"x":64.15,"y":21},{"x":64.20,"y":31},{"x":64.25,"y":15},{"x":64.30,"y":26},{"x":64.35,"y":30},{"x":64.40,"y":20},{"x":64.45,"y":27},{"x":64.50,"y":18},{"x":64.55,"y":32},{"x":64.60,"y":22},{"x":64.65,"y":19},{"x":64.70,"y":28},{"x":64.75,"y":23},{"x":64.80,"y":30},{"x":64.85,"y":17},{"x":64.90,"y":33},{"x":64.95,"y":21},
{"x":65.00,"y":23},{"x":65.05,"y":29},{"x":65.10,"y":19},{"x":65.15,"y":34},{"x":65.20,"y":24},{"x":65.25,"y":20},{"x":65.30,"y":32},{"x":65.35,"y":22},{"x":65.40,"y":27},{"x":65.45,"y":17},{"x":65.50,"y":31},{"x":65.55,"y":21},{"x":65.60,"y":33},{"x":65.65,"y":24},{"x":65.70,"y":19},{"x":65.75,"y":28},{"x":65.80,"y":18},{"x":65.85,"y":30},{"x":65.90,"y":26},{"x":65.95,"y":16},
{"x":66.00,"y":31},{"x":66.05,"y":23},{"x":66.10,"y":27},{"x":66.15,"y":18},{"x":66.20,"y":32},{"x":66.25,"y":24},{"x":66.30,"y":35},{"x":66.35,"y":20},{"x":66.40,"y":29},{"x":66.45,"y":21},{"x":66.50,"y":28},{"x":66.55,"y":19},{"x":66.60,"y":33},{"x":66.65,"y":22},{"x":66.70,"y":27},{"x":66.75,"y":34},{"x":66.80,"y":21},{"x":66.85,"y":29},{"x":66.90,"y":17},{"x":66.95,"y":30},
{"x":67.00,"y":20},{"x":67.05,"y":28},{"x":67.10,"y":34},{"x":67.15,"y":22},{"x":67.20,"y":29},{"x":67.25,"y":19},{"x":67.30,"y":27},{"x":67.35,"y":32},{"x":67.40,"y":17},{"x":67.45,"y":30},{"x":67.50,"y":24},{"x":67.55,"y":33},{"x":67.60,"y":21},{"x":67.65,"y":28},{"x":67.70,"y":35},{"x":67.75,"y":23},{"x":67.80,"y":19},{"x":67.85,"y":31},{"x":67.90,"y":25},{"x":67.95,"y":29},
{"x":68.00,"y":30},{"x":68.05,"y":22},{"x":68.10,"y":34},{"x":68.15,"y":25},{"x":68.20,"y":19},{"x":68.25,"y":31},{"x":68.30,"y":28},{"x":68.35,"y":21},{"x":68.40,"y":36},{"x":68.45,"y":24},{"x":68.50,"y":32},{"x":68.55,"y":20},{"x":68.60,"y":27},{"x":68.65,"y":33},{"x":68.70,"y":23},{"x":68.75,"y":29},{"x":68.80,"y":18},{"x":68.85,"y":32},{"x":68.90,"y":26},{"x":68.95,"y":35},
{"x":69.00,"y":24},{"x":69.05,"y":34},{"x":69.10,"y":27},{"x":69.15,"y":36},{"x":69.20,"y":21},{"x":69.25,"y":30},{"x":69.30,"y":25},{"x":69.35,"y":33},{"x":69.40,"y":20},{"x":69.45,"y":29},{"x":69.50,"y":35},{"x":69.55,"y":23},{"x":69.60,"y":31},{"x":69.65,"y":26},{"x":69.70,"y":37},{"x":69.75,"y":22},{"x":69.80,"y":33},{"x":69.85,"y":29},{"x":69.90,"y":36},{"x":69.95,"y":31},
{"x":70.00,"y":30},{"x":70.05,"y":35},{"x":70.10,"y":28},{"x":70.15,"y":38},{"x":70.20,"y":40},{"x":70.25,"y":36},{"x":70.30,"y":42},{"x":70.35,"y":45},{"x":70.40,"y":60},{"x":70.45,"y":73},{"x":70.50,"y":72},{"x":70.55,"y":97},{"x":70.60,"y":90},{"x":70.65,"y":100},{"x":70.70,"y":106},{"x":70.75,"y":99},{"x":70.80,"y":102},{"x":70.85,"y":92},{"x":70.90,"y":100},{"x":70.95,"y":89},
{"x":71.00,"y":98},{"x":71.05,"y":85},{"x":71.10,"y":77},{"x":71.15,"y":66},{"x":71.20,"y":67},{"x":71.25,"y":50},{"x":71.30,"y":38},{"x":71.35,"y":36},{"x":71.40,"y":32},{"x":71.45,"y":34},{"x":71.50,"y":28},{"x":71.55,"y":31},{"x":71.60,"y":24},{"x":71.65,"y":30},{"x":71.70,"y":21},{"x":71.75,"y":33},{"x":71.80,"y":26},{"x":71.85,"y":22},{"x":71.90,"y":29},{"x":71.95,"y":25},
{"x":72.00,"y":28},{"x":72.05,"y":20},{"x":72.10,"y":32},{"x":72.15,"y":24},{"x":72.20,"y":34},{"x":72.25,"y":18},{"x":72.30,"y":29},{"x":72.35,"y":33},{"x":72.40,"y":23},{"x":72.45,"y":30},{"x":72.50,"y":21},{"x":72.55,"y":35},{"x":72.60,"y":25},{"x":72.65,"y":22},{"x":72.70,"y":31},{"x":72.75,"y":26},{"x":72.80,"y":33},{"x":72.85,"y":20},{"x":72.90,"y":36},{"x":72.95,"y":24},
{"x":73.00,"y":25},{"x":73.05,"y":31},{"x":73.10,"y":21},{"x":73.15,"y":36},{"x":73.20,"y":26},{"x":73.25,"y":22},{"x":73.30,"y":34},{"x":73.35,"y":24},{"x":73.40,"y":29},{"x":73.45,"y":19},{"x":73.50,"y":33},{"x":73.55,"y":23},{"x":73.60,"y":35},{"x":73.65,"y":26},{"x":73.70,"y":21},{"x":73.75,"y":30},{"x":73.80,"y":20},{"x":73.85,"y":32},{"x":73.90,"y":28},{"x":73.95,"y":18},
{"x":74.00,"y":33},{"x":74.05,"y":25},{"x":74.10,"y":29},{"x":74.15,"y":20},{"x":74.20,"y":34},{"x":74.25,"y":26},{"x":74.30,"y":37},{"x":74.35,"y":22},{"x":74.40,"y":31},{"x":74.45,"y":23},{"x":74.50,"y":47},{"x":74.55,"y":33},{"x":74.60,"y":35},{"x":74.65,"y":30},{"x":74.70,"y":37},{"x":74.75,"y":34},{"x":74.80,"y":38},{"x":74.85,"y":36},{"x":74.90,"y":40},{"x":74.95,"y":38},
{"x":75.00,"y":44},{"x":75.05,"y":47},{"x":75.10,"y":56},{"x":75.15,"y":54},{"x":75.20,"y":58},{"x":75.25,"y":90},{"x":75.30,"y":122},{"x":75.35,"y":95},{"x":75.40,"y":88},{"x":75.45,"y":76},{"x":75.50,"y":80},{"x":75.55,"y":72},{"x":75.60,"y":74},{"x":75.65,"y":55},{"x":75.70,"y":42},{"x":75.75,"y":45},{"x":75.80,"y":40},{"x":75.85,"y":35},{"x":75.90,"y":32},{"x":75.95,"y":36},
{"x":76.00,"y":21},{"x":76.05,"y":29},{"x":76.10,"y":35},{"x":76.15,"y":23},{"x":76.20,"y":30},{"x":76.25,"y":20},{"x":76.30,"y":28},{"x":76.35,"y":33},{"x":76.40,"y":18},{"x":76.45,"y":31},{"x":76.50,"y":25},{"x":76.55,"y":34},{"x":76.60,"y":22},{"x":76.65,"y":29},{"x":76.70,"y":36},{"x":76.75,"y":24},{"x":76.80,"y":20},{"x":76.85,"y":32},{"x":76.90,"y":26},{"x":76.95,"y":30},
{"x":77.00,"y":30},{"x":77.05,"y":22},{"x":77.10,"y":34},{"x":77.15,"y":25},{"x":77.20,"y":19},{"x":77.25,"y":31},{"x":77.30,"y":28},{"x":77.35,"y":21},{"x":77.40,"y":36},{"x":77.45,"y":24},{"x":77.50,"y":32},{"x":77.55,"y":20},{"x":77.60,"y":27},{"x":77.65,"y":33},{"x":77.70,"y":23},{"x":77.75,"y":29},{"x":77.80,"y":18},{"x":77.85,"y":32},{"x":77.90,"y":26},{"x":77.95,"y":35},
{"x":78.00,"y":24},{"x":78.05,"y":34},{"x":78.10,"y":27},{"x":78.15,"y":36},{"x":78.20,"y":21},{"x":78.25,"y":30},{"x":78.30,"y":25},{"x":78.35,"y":33},{"x":78.40,"y":20},{"x":78.45,"y":29},{"x":78.50,"y":35},{"x":78.55,"y":23},{"x":78.60,"y":31},{"x":78.65,"y":26},{"x":78.70,"y":37},{"x":78.75,"y":22},{"x":78.80,"y":32},{"x":78.85,"y":20},{"x":78.90,"y":30},{"x":78.95,"y":27},
{"x":79.00,"y":29},{"x":79.05,"y":21},{"x":79.10,"y":33},{"x":79.15,"y":25},{"x":79.20,"y":35},{"x":79.25,"y":19},{"x":79.30,"y":30},{"x":79.35,"y":34},{"x":79.40,"y":24},{"x":79.45,"y":31},{"x":79.50,"y":22},{"x":79.55,"y":36},{"x":79.60,"y":26},{"x":79.65,"y":23},{"x":79.70,"y":32},{"x":79.75,"y":27},{"x":79.80,"y":34},{"x":79.85,"y":21},{"x":79.90,"y":37},{"x":79.95,"y":25},
{"x":80.00,"y":27}
    ]
  },
  "vconcat": [
    {
      "width": 1718,
      "height": 465,
      "layer": [
        {
          "data": {"values": [{"x1": -5.172, "x2": 81.57, "y1": 136.81, "y2": -15.966, "k": "page"}, {"x1": -0.282, "x2": 81.57, "y1": 136.81, "y2": -15.966, "k": "panel"}, {"x1": 5, "x2": 80, "y1": 0, "y2": 128, "k": "plot"}]},
          "mark": {"type": "rect"},
          "encoding": {
            "x": {"field": "x1", "type": "quantitative"},
            "x2": {"field": "x2"},
            "y": {"field": "y1", "type": "quantitative"},
            "y2": {"field": "y2"},
            "fill": {"field": "k", "type": "nominal", "scale": {"domain": ["page", "panel", "plot"], "range": ["#ffffff", "#eeeeee", "#ffffff"]}, "legend": null},
            "stroke": {"field": "k", "type": "nominal", "scale": {"domain": ["page", "panel", "plot"], "range": ["transparent", "transparent", "#000000"]}, "legend": null},
            "strokeWidth": {"field": "k", "type": "nominal", "scale": {"domain": ["page", "panel", "plot"], "range": [0, 0, 2.5]}, "legend": null},
            "order": {"field": "k", "sort": "ascending"}
          }
        },
        {
          "data": {"name": "scan"},
          "mark": {"type": "line", "interpolate": "step", "color": "black", "strokeWidth": 2},
          "encoding": {
            "x": {
              "field": "x", "type": "quantitative",
              "scale": {"domain": [5, 80], "nice": false, "zero": false},
              "axis": {
                "values": [6,8,10,12,14,16,18,20,22,24,26,28,30,32,34,36,38,40,42,44,46,48,50,52,54,56,58,60,62,64,66,68,70,72,74,76,78,80],
                "labelExpr": "datum.value % 10 === 0 ? datum.label : ''",
                "format": "d",
                "domain": false, "tickSize": 8, "tickWidth": 2, "tickColor": "black",
                "labelFont": "DejaVu Sans", "labelFontSize": 12, "labelColor": "#444", "labelPadding": 3,
                "labelFlush": false, "labelOverlap": false,
                "title": "Two-Theta (deg)", "titleFont": "DejaVu Sans", "titleFontSize": 21,
                "titleFontWeight": "normal", "titleColor": "#333", "titleY": 33, "titleBaseline": "middle",
                "zindex": 1
              }
            },
            "y": {
              "field": "y", "type": "quantitative",
              "scale": {"domain": [0, 128], "nice": false},
              "axis": {
                "values": [0, 25, 50, 75, 100, 125],
                "domain": false, "tickSize": 12, "tickWidth": 1.5, "tickColor": "black",
                "labelFont": "DejaVu Sans", "labelFontSize": 12, "labelColor": "#444", "labelPadding": 16,
                "title": "Intensity(Counts)", "titleFont": "Liberation Sans", "titleFontSize": 15,
                "titleFontWeight": "normal", "titleColor": "#333", "titleX": -85, "titleY": 232,
                "titleBaseline": "middle", "titleAlign": "center",
                "zindex": 1
              }
            }
          }
        },
        {
          "data": {"name": "sticks"},
          "mark": {"type": "rule", "color": "black", "strokeWidth": 2},
          "encoding": {
            "x": {"field": "x", "type": "quantitative"},
            "y": {"field": "b", "type": "quantitative"},
            "y2": {"field": "h"}
          }
        },
        {
          "data": {"values": [
            {"t": "Nb", "x": 36.26, "y": 95.5},
            {"t": "Cu", "x": 53.02, "y": 69.4},
            {"t": "Nb", "x": 68.78, "y": 84.5},
            {"t": "Cu", "x": 77.9, "y": 83.7}
          ]},
          "mark": {"type": "text", "font": "Open Sans", "fontSize": 48, "color": "black", "align": "center", "baseline": "middle"},
          "encoding": {
            "x": {"field": "x", "type": "quantitative"},
            "y": {"field": "y", "type": "quantitative"},
            "text": {"field": "t"}
          }
        },
        {
          "data": {"values": [{"t": "a)", "x": -3.64, "y": 96.6}]},
          "mark": {"type": "text", "font": "Open Sans", "fontSize": 40, "color": "black", "align": "center", "baseline": "middle"},
          "encoding": {
            "x": {"field": "x", "type": "quantitative"},
            "y": {"field": "y", "type": "quantitative"},
            "text": {"field": "t"}
          }
        },
        {
          "data": {"values": [{"t": "[AM-Plaksne ar melno virsmu.raw] 03.03.2023.", "x": 5.44, "y": 131}]},
          "mark": {"type": "text", "font": "DejaVu Sans", "fontSize": 20, "color": "#34344e", "align": "left", "baseline": "middle"},
          "encoding": {
            "x": {"field": "x", "type": "quantitative"},
            "y": {"field": "y", "type": "quantitative"},
            "text": {"field": "t"}
          }
        },
        {
          "data": {"values": [{"t": "00-016-0001> Nb - Niobium", "x": 78.08, "y": 123.9}]},
          "mark": {"type": "text", "font": "DejaVu Sans", "fontSize": 17, "color": "#6a4a5a", "align": "right", "baseline": "middle"},
          "encoding": {
            "x": {"field": "x", "type": "quantitative"},
            "y": {"field": "y", "type": "quantitative"},
            "text": {"field": "t"}
          }
        }
      ]
    },
    {
      "width": 1739,
      "height": 533,
      "layer": [
        {
          "data": {"values": [{"x1": -5.062, "x2": 80.748, "y1": 129.44, "y2": -5.764, "k": "page"}, {"x1": 3.575, "x2": 80.748, "y1": 129.44, "y2": -5.764, "k": "panel"}, {"x1": 5, "x2": 80.1, "y1": 0, "y2": 128, "k": "plot"}]},
          "mark": {"type": "rect"},
          "encoding": {
            "x": {"field": "x1", "type": "quantitative"},
            "x2": {"field": "x2"},
            "y": {"field": "y1", "type": "quantitative"},
            "y2": {"field": "y2"},
            "fill": {"field": "k", "type": "nominal", "scale": {"domain": ["page", "panel", "plot"], "range": ["#ffffff", "#eeeeee", "#ffffff"]}, "legend": null},
            "stroke": {"field": "k", "type": "nominal", "scale": {"domain": ["page", "panel", "plot"], "range": ["transparent", "transparent", "#707070"]}, "legend": null},
            "strokeWidth": {"field": "k", "type": "nominal", "scale": {"domain": ["page", "panel", "plot"], "range": [0, 0, 1.5]}, "legend": null},
            "order": {"field": "k", "sort": "ascending"}
          }
        },
        {
          "data": {"name": "scan"},
          "mark": {"type": "line", "interpolate": "step", "color": "#111111", "strokeWidth": 1},
          "encoding": {
            "x": {
              "field": "x", "type": "quantitative",
              "scale": {"domain": [5, 80.1], "nice": false, "zero": false},
              "axis": {
                "values": [6,8,10,12,14,16,18,20,22,24,26,28,30,32,34,36,38,40,42,44,46,48,50,52,54,56,58,60,62,64],
                "labelExpr": "datum.value % 10 === 0 ? datum.label : ''",
                "format": "d",
                "domain": false, "tickSize": 6, "tickWidth": 1.2, "tickColor": "#555",
                "labelFont": "Liberation Sans", "labelFontSize": 16, "labelColor": "#222", "labelPadding": 2,
                "labelFlush": false, "labelOverlap": false,
                "title": null,
                "zindex": 1
              }
            },
            "y": {
              "field": "y", "type": "quantitative",
              "scale": {"domain": [0, 128], "nice": false},
              "axis": {
                "ticks": false, "labels": false, "domain": false,
                "title": "Intensity(Counts)", "titleFont": "Liberation Sans", "titleFontSize": 16,
                "titleFontWeight": "normal", "titleColor": "#222", "titleX": -20, "titleY": 166,
                "titleBaseline": "middle", "titleAlign": "center",
                "zindex": 1
              }
            }
          }
        },
        {
          "data": {"name": "sticks"},
          "mark": {"type": "rule", "color": "#2a2aff", "strokeWidth": 1.5},
          "encoding": {
            "x": {"field": "x", "type": "quantitative"},
            "y": {"field": "b", "type": "quantitative"},
            "y2": {"field": "h"}
          }
        },
        {
          "data": {"values": [{"t": "Nb - Niobium", "x": 79.93, "y": 125.8}]},
          "mark": {"type": "text", "font": "Liberation Sans", "fontSize": 19, "color": "#2020ff", "align": "right", "baseline": "middle"},
          "encoding": {
            "x": {"field": "x", "type": "quantitative"},
            "y": {"field": "y", "type": "quantitative"},
            "text": {"field": "t"}
          }
        },
        {
          "data": {"values": [{"t": "b)", "x": -3.59, "y": 75.6}]},
          "mark": {"type": "text", "font": "Open Sans", "fontSize": 40, "color": "black", "align": "center", "baseline": "middle"},
          "encoding": {
            "x": {"field": "x", "type": "quantitative"},
            "y": {"field": "y", "type": "quantitative"},
            "text": {"field": "t"}
          }
        },
        {
          "data": {"values": [{"cx": -2.69, "cy": -18.25}]},
          "mark": {
            "type": "arc", "radius": 76, "radius2": 70, "theta": -0.76, "theta2": 0.76,
            "fill": {"gradient": "linear", "x1": 0, "y1": 0, "x2": 1, "y2": 0, "stops": [{"offset": 0, "color": "#9d3fe0"}, {"offset": 1, "color": "#2fcaf0"}]}
          },
          "encoding": {
            "x": {"field": "cx", "type": "quantitative"},
            "y": {"field": "cy", "type": "quantitative"}
          }
        }
      ]
    }
  ]
}
